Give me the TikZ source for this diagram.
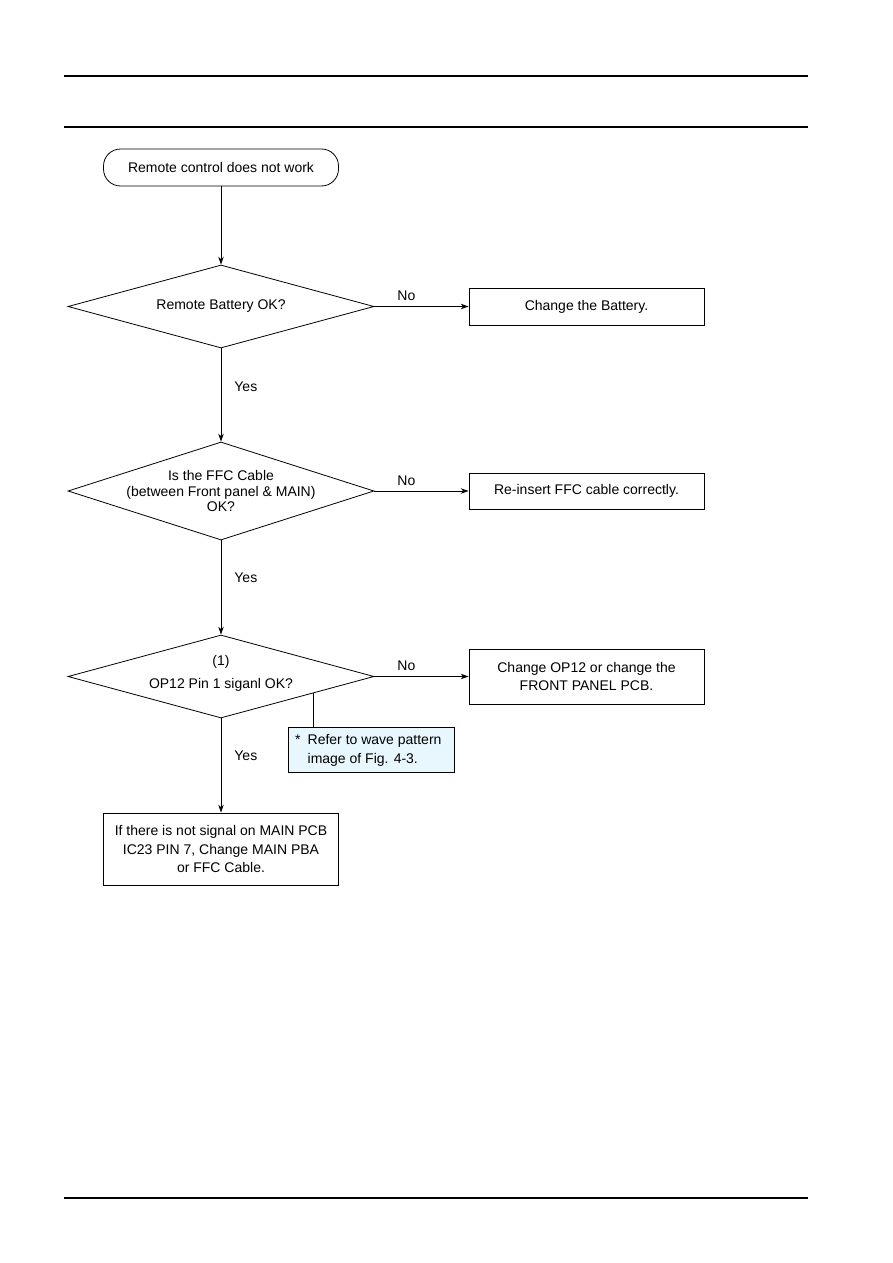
\documentclass[tikz,border=0pt]{standalone}
\usepackage{fontspec}
\setmainfont{Liberation Sans}
\usetikzlibrary{shapes.geometric,arrows.meta,calc}
\definecolor{noteblue}{RGB}{232,246,253}
\begin{document}
\begin{tikzpicture}[x=1pt,y=-1pt,
  every node/.style={font=\fontsize{14}{16}\selectfont},
  box/.style={draw,line width=0.8pt,rectangle,inner sep=0pt,minimum width=235pt,align=center},
  startbox/.style={draw,line width=0.8pt,rectangle,rounded corners=17pt,inner sep=0pt,minimum width=235pt,minimum height=37pt},
  decision/.style={draw,line width=0.8pt,diamond,inner sep=0pt,minimum width=306pt,minimum height=83pt},
  notebox/.style={draw,line width=0.8pt,rectangle,fill=noteblue,inner sep=0pt,minimum width=166pt,minimum height=45pt},
  flow/.style={line width=0.8pt,-{Stealth[length=8pt,width=5.5pt]}},
  lbl/.style={inner sep=0pt},
  rule/.style={line width=1.3pt}]
\useasboundingbox (0,0) rectangle (893,1263);
% page rules
\coordinate (r1a) at (64,76); \coordinate (r1b) at (808,76);
\coordinate (r2a) at (64,127); \coordinate (r2b) at (808,127);
\coordinate (r3a) at (64,1198); \coordinate (r3b) at (808,1198);
\draw[rule] (r1a) -- (r1b);
\draw[rule] (r2a) -- (r2b);
\draw[rule] (r3a) -- (r3b);
% nodes
\node[startbox] (s) at (221,167.5) {Remote control does not work};
\node[decision] (d1) at (221,306.5) {};
\node[lbl] (d1t) at (221,306.5) {Remote Battery OK?};
\node[box,minimum height=37pt] (b1) at (586.5,306.5) {Change the Battery.};
\node[decision,minimum height=98pt] (d2) at (221,491) {};
\node[lbl,align=center,font=\fontsize{14}{15.5}\selectfont] (d2t) at (221,491) {Is the FFC Cable\\(between Front panel \& MAIN)\\OK?};
\node[box,minimum height=36pt] (b2) at (586.5,491) {Re-insert FFC cable correctly.};
\node[decision] (d3) at (221,676.5) {};
\node[lbl,align=center,font=\fontsize{14}{23}\selectfont] (d3t) at (221,673) {(1)\\OP12 Pin 1 siganl OK?};
\node[box,minimum height=55pt,font=\fontsize{14}{18}\selectfont] (b3) at (586.5,676.5) {Change OP12 or change the\\FRONT PANEL PCB.};
\node[notebox] (n) at (371,749.5) {};
\node[lbl,anchor=west,align=left,font=\fontsize{14}{19}\selectfont] (nt) at (295,750) {*\hspace{7pt}Refer to wave pattern\\\phantom{*}\hspace{7pt}image of Fig. 4-3.};
\node[box,minimum height=72pt,font=\fontsize{14}{18.5}\selectfont] (b4) at (221,849) {If there is not signal on MAIN PCB\\IC23 PIN 7, Change MAIN PBA\\or FFC Cable.};
% connectors
\draw[flow] (s) -- (d1);
\draw[flow] (d1.east) -- (b1.west) node[lbl,pos=0.34,above=5pt] (no1) {No};
\draw[flow] (d1.south) -- (d2.north) node[lbl,pos=0.41,right=13pt] (yes1) {Yes};
\draw[flow] (d2.east) -- (b2.west) node[lbl,pos=0.34,above=5pt] (no2) {No};
\draw[flow] (d2.south) -- (d3.north) node[lbl,pos=0.4,right=13pt] (yes2) {Yes};
\draw[flow] (d3.east) -- (b3.west) node[lbl,pos=0.34,above=5pt] (no3) {No};
\draw[flow] (d3.south) -- (b4.north) node[lbl,pos=0.4,right=13pt] (yes3) {Yes};
\coordinate (nc) at ($(d3.south)!0.601!(d3.east)$);
\draw[line width=0.8pt] (nc) -- (nc |- n.north);
\end{tikzpicture}
\end{document}
